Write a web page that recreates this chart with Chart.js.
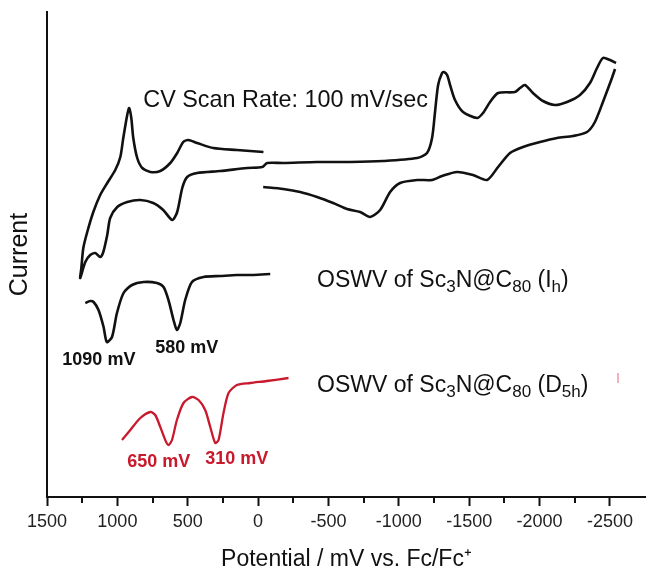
<!DOCTYPE html>
<html lang="en">
<head>
  <meta charset="UTF-8">
  <title>CV / OSWV of Sc3N@C80</title>
  <script src="https://cdn.jsdelivr.net/npm/chart.js"></script>
  <style>
    body { margin: 0; background: #fff; }
  </style>
</head>
<body>
  <canvas class="chart" width="646" height="571"></canvas>

<script>
  // Potential in mV vs. Fc/Fc+, current in arbitrary units (traces are offset)
  // CV, first sweep: from 0 mV up to the anodic end, back down to the cathodic end
  const cvFwdX = [-38, 151, 319, 433, 497, 532, 575, 624, 695, 766, 823, 859, 887, 901, 916, 930, 958, 979, 1015, 1072,
    1122, 1171, 1214, 1242, 1256, 1264, 1228, 1193, 1157, 1122, 1100, 1072, 1051, 1001, 930, 837, 745, 674, 610, 575,
    539, 504, 433, 269, 78, -29, -64, -178, -419, -654, -888, -1130, -1200, -1236, -1257, -1279, -1307, -1321, -1343, -1364,
    -1399, -1456, -1556, -1598, -1648, -1705, -1825, -1861, -1896, -1953, -2024, -2109, -2195, -2287, -2358, -2408, -2450, -2500, -2543];
  const cvFwdY = [34.5, 34.7, 34.9, 35.4, 35.7, 35.5, 34.4, 33.4, 32.6, 32.5, 32.9, 33.9, 35.9, 37.9, 38.9, 38.2, 35.9, 34.0, 32.7, 31.4,
    30.2, 28.5, 26.5, 24.9, 22.9, 21.9, 23.5, 24.2, 24.4, 24.0, 24.5, 26.2, 27.9, 29.0, 29.5, 29.7, 29.4, 28.7, 27.7, 28.5,
    30.9, 32.0, 32.4, 32.6, 32.9, 33.0, 33.4, 33.4, 33.5, 33.5, 33.6, 33.9, 34.4, 35.9, 38.5, 41.2, 42.4, 42.5, 42.2, 41.2,
    39.7, 38.5, 37.9, 38.4, 39.5, 40.4, 40.5, 40.9, 41.2, 40.4, 39.6, 39.2, 39.5, 40.2, 41.4, 42.9, 43.9, 43.7, 43.4];

  // CV, return sweep from the cathodic end back to 0 mV
  const cvRevX = [-2536, -2514, -2450, -2393, -2337, -2237, -2124, -2003, -1882, -1790, -1705, -1627, -1527, -1413,
    -1307, -1236, -1130, -1009, -938, -867, -796, -725, -632, -533, -419, -299, -178, -36];
  const cvRevY = [42.8, 41.9, 39.5, 37.5, 36.5, 36.1, 35.9, 35.5, 35.0, 34.4, 33.0, 31.7, 32.2, 32.5,
    32.1, 31.7, 31.7, 31.4, 30.5, 28.7, 28.0, 28.5, 28.8, 29.4, 30.0, 30.5, 30.8, 31.0];

  // OSWV of Sc3N@C80 (Ih)
  const oswvIhX = [1228, 1193, 1169, 1134, 1098, 1075, 1038, 1003, 956, 896, 814, 719, 672, 637, 601, 577, 553, 518, 470, 388, 269, 151, 33, -86];
  const oswvIhY = [19.4, 19.6, 19.5, 18.7, 17.0, 15.5, 16.0, 18.4, 20.4, 21.2, 21.5, 21.4, 21.0, 19.7, 17.7, 16.7, 17.4, 19.7, 21.5, 22.0, 22.1, 22.2, 22.2, 22.3];

  // OSWV of Sc3N@C80 (D5h)
  const oswvD5hX = [967, 908, 837, 766, 731, 695, 660, 637, 612, 577, 530, 470, 423, 376, 340, 305, 281, 246, 210, 151, 56, -62, -216];
  const oswvD5hY = [5.7, 6.7, 7.9, 8.5, 8.2, 7.0, 5.7, 5.2, 5.7, 7.7, 9.4, 10.0, 9.7, 8.7, 7.0, 5.4, 5.7, 8.4, 10.4, 11.2, 11.4, 11.6, 11.9];

  // small stray pink mark right of the D5h label
  const strayX = [-2557, -2557];
  const strayY = [12.4, 11.4];

  const xTicks = [1500, 1000, 500, 0, -500, -1000, -1500, -2000, -2500];
  const xMinorTicks = [1250, 750, 250, -250, -750, -1250, -1750, -2250];

  const FONT = '"Liberation Sans", Arial, sans-serif';
  const INK = '#111';
  const RED = '#c8192d';

  // text placed in data coordinates
  const notes = [
    { x: 816, y: 39.6, size: 23.4, weight: 'normal', color: INK, parts: [['CV Scan Rate: 100 mV/sec']] },
    { x: -419, y: 21.6, size: 23, weight: 'normal', color: INK,
      parts: [['OSWV of Sc'], ['3', 1], ['N@C'], ['80', 1], [' (I'], ['h', 1], [')']] },
    { x: -419, y: 11.1, size: 23, weight: 'normal', color: INK,
      parts: [['OSWV of Sc'], ['3', 1], ['N@C'], ['80', 1], [' (D'], ['5h', 1], [')']] },
    { x: 1391, y: 13.7, size: 18, weight: 'bold', color: INK, parts: [['1090 mV']] },
    { x: 731, y: 14.9, size: 18, weight: 'bold', color: INK, parts: [['580 mV']] },
    { x: 930, y: 3.5, size: 18, weight: 'bold', color: RED, parts: [['650 mV']] },
    { x: 376, y: 3.8, size: 18, weight: 'bold', color: RED, parts: [['310 mV']] }
  ];

  function toPoints(xs, ys) {
    return xs.map((x, i) => ({ x: x, y: ys[i] }));
  }

  function trace(label, xs, ys, color, width) {
    return {
      label: label,
      data: toPoints(xs, ys),
      showLine: true,
      borderColor: color,
      borderWidth: width,
      pointRadius: 0,
      tension: 0.25,
      fill: false
    };
  }

  // notes + the short minor ticks under the x axis
  const extrasPlugin = {
    id: 'extras',
    afterDraw(chart) {
      const ctx = chart.ctx;
      const xs = chart.scales.x;
      const ys = chart.scales.y;
      ctx.save();

      ctx.strokeStyle = INK;
      ctx.lineWidth = 2;
      xMinorTicks.forEach(v => {
        const px = Math.round(xs.getPixelForValue(v));
        ctx.beginPath();
        ctx.moveTo(px, xs.top);
        ctx.lineTo(px, xs.top + 6);
        ctx.stroke();
      });

      ctx.textBaseline = 'middle';
      ctx.textAlign = 'left';
      notes.forEach(n => {
        let px = xs.getPixelForValue(n.x);
        const py = ys.getPixelForValue(n.y);
        ctx.fillStyle = n.color;
        n.parts.forEach(([text, sub]) => {
          const size = sub ? n.size * 0.74 : n.size;
          ctx.font = `${n.weight} ${size}px ${FONT}`;
          ctx.fillText(text, px, sub ? py + n.size * 0.28 : py);
          px += ctx.measureText(text).width;
        });
      });
      ctx.restore();
    }
  };

  Chart.defaults.font.family = FONT;

  new Chart(document.querySelector('.chart'), {
    type: 'scatter',
    data: {
      datasets: [
        trace('CV forward', cvFwdX, cvFwdY, INK, 2.6),
        trace('CV return', cvRevX, cvRevY, INK, 2.6),
        trace('OSWV Ih', oswvIhX, oswvIhY, INK, 2.6),
        trace('OSWV D5h', oswvD5hX, oswvD5hY, RED, 2.3),
        trace('stray', strayX, strayY, '#f3b3bd', 2)
      ]
    },
    options: {
      responsive: false,
      animation: false,
      layout: { padding: { top: 12, right: 0, bottom: 0, left: 0 } },
      plugins: {
        legend: { display: false },
        tooltip: { enabled: false }
      },
      scales: {
        x: {
          type: 'linear',
          reverse: true,
          min: -2756,
          max: 1500,
          afterBuildTicks: s => { s.ticks = xTicks.map(v => ({ value: v })); },
          afterFit: s => { s.height = 74; },
          grid: { drawOnChartArea: false, drawTicks: true, tickLength: 9, tickWidth: 2, tickColor: INK, color: INK },
          border: { display: true, color: INK, width: 2 },
          ticks: { color: '#222', font: { size: 18 }, padding: 5, maxRotation: 0, autoSkip: false, callback: v => String(v) },
          title: { display: true, text: 'Potential / mV vs. Fc/Fc⁺', color: INK, font: { size: 23, lineHeight: 1 }, padding: { top: 0, bottom: 0 } }
        },
        y: {
          min: 0,
          max: 48.5,
          afterFit: s => { s.width = 47; },
          grid: { display: false },
          border: { display: true, color: INK, width: 2 },
          ticks: { display: false },
          title: { display: true, text: 'Current', color: INK, font: { size: 25, lineHeight: 1.2 }, padding: { top: 5, bottom: 0 } }
        }
      }
    },
    plugins: [extrasPlugin]
  });
</script>
</body>
</html>
